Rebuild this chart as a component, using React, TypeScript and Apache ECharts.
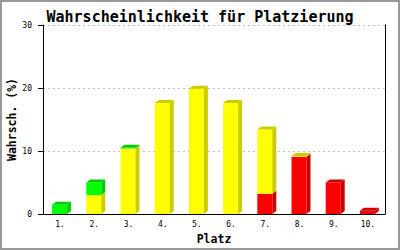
import React, { useEffect, useRef } from "react";
import * as echarts from "echarts";

const categories = ["1.", "2.", "3.", "4.", "5.", "6.", "7.", "8.", "9.", "10."];
// stacked bottom-up: red, yellow, green
const redValues = [0, 0, 0, 0, 0, 0, 3.2, 9.1, 5.0, 0.5];
const yellowValues = [0, 3.0, 10.4, 17.6, 19.9, 17.6, 10.2, 0.1, 0, 0];
const greenValues = [1.45, 2.0, 0.1, 0, 0, 0, 0, 0, 0, 0];
const yTicks = { min: 0, max: 30, interval: 10 };

const FRONT = ["#ff0000", "#ffff00", "#00ff00"];
const DARK = ["#cc0000", "#cccc00", "#00cc00"];
const MONO = "'DejaVu Sans Mono', monospace";

export default function App() {
  const ref = useRef<HTMLDivElement>(null);
  useEffect(() => {
    const chart = echarts.init(ref.current!, null, { renderer: "svg" });
    const data = categories.map((_, i) => [i, redValues[i], yellowValues[i], greenValues[i]]);
    const BW = 15;
    const DX = 4;
    const DY = 3;
    chart.setOption({
      animation: false,
      backgroundColor: "#ffffff",
      title: {
        text: "Wahrscheinlichkeit für Platzierung",
        left: "center",
        top: 4,
        textStyle: { fontFamily: MONO, fontWeight: "bold", fontSize: 15, color: "#000" },
      },
      graphic: [
        {
          type: "rect",
          shape: { x: 1, y: 1, width: 398, height: 248 },
          style: { fill: "none", stroke: "#999999", lineWidth: 2 },
          silent: true,
        },
      ],
      grid: { left: 43, right: 15, top: 25, bottom: 36, outerBoundsMode: "none", containLabel: false },
      xAxis: {
        type: "category",
        data: categories,
        boundaryGap: true,
        axisLine: { lineStyle: { color: "#000", width: 1 } },
        axisTick: { show: false },
        axisLabel: { fontFamily: MONO, fontSize: 8, color: "#000", margin: 6 },
        name: "Platz",
        nameLocation: "middle",
        nameGap: 19,
        nameMoveOverlap: false,
        nameTextStyle: { fontFamily: MONO, fontWeight: "bold", fontSize: 11.5, color: "#000", verticalAlign: "top" },
      },
      yAxis: [
        {
          type: "value",
          min: yTicks.min,
          max: yTicks.max,
          interval: yTicks.interval,
          axisLine: { show: true, lineStyle: { color: "#000", width: 1 } },
          axisTick: { show: true, length: 5, lineStyle: { color: "#000" } },
          axisLabel: { fontFamily: MONO, fontSize: 8, color: "#000", margin: 11 },
          splitLine: { show: true, lineStyle: { color: "#c0c0c0", type: [2, 3], width: 1 } },
          name: "Wahrsch. (%)",
          nameLocation: "middle",
          nameGap: 25,
          nameMoveOverlap: false,
          nameRotate: 90,
          nameTextStyle: { fontFamily: MONO, fontWeight: "bold", fontSize: 11.5, color: "#000" },
        },
        {
          type: "value",
          position: "right",
          min: yTicks.min,
          max: yTicks.max,
          interval: yTicks.interval,
          axisLine: { show: true, lineStyle: { color: "#000", width: 1 } },
          axisTick: { show: false },
          axisLabel: { show: false },
          splitLine: { show: false },
        },
      ],
      series: [
        {
          type: "custom",
          data,
          encode: { x: 0, y: [1, 2, 3] },
          renderItem: (params: any, api: any) => {
            const idx = api.value(0);
            const vals = [api.value(1), api.value(2), api.value(3)];
            const cx = api.coord([idx, 0])[0];
            const x0 = cx - 8;
            const x1 = x0 + BW;
            const children: any[] = [];
            let base = 0;
            let topColor = -1;
            let topY = 0;
            vals.forEach((v: number, s: number) => {
              if (!v || v <= 0) return;
              const yb = api.coord([idx, base])[1];
              const yt = api.coord([idx, base + v])[1];
              children.push({
                type: "rect",
                shape: { x: x0, y: yt, width: BW, height: yb - yt },
                style: { fill: FRONT[s] },
              });
              children.push({
                type: "polygon",
                shape: { points: [[x1, yb], [x1 + DX, yb - DY], [x1 + DX, yt - DY], [x1, yt]] },
                style: { fill: DARK[s] },
              });
              base += v;
              topColor = s;
              topY = yt;
            });
            if (topColor >= 0) {
              children.push({
                type: "polygon",
                shape: { points: [[x0, topY], [x0 + DX, topY - DY], [x1 + DX, topY - DY], [x1, topY]] },
                style: { fill: DARK[topColor] },
              });
            }
            return { type: "group", children };
          },
        },
      ],
    });
    return () => chart.dispose();
  }, []);
  return (
    <div
      ref={ref}
      style={{ position: "fixed", left: 0, top: 0, width: 400, height: 250 }}
    />
  );
}
